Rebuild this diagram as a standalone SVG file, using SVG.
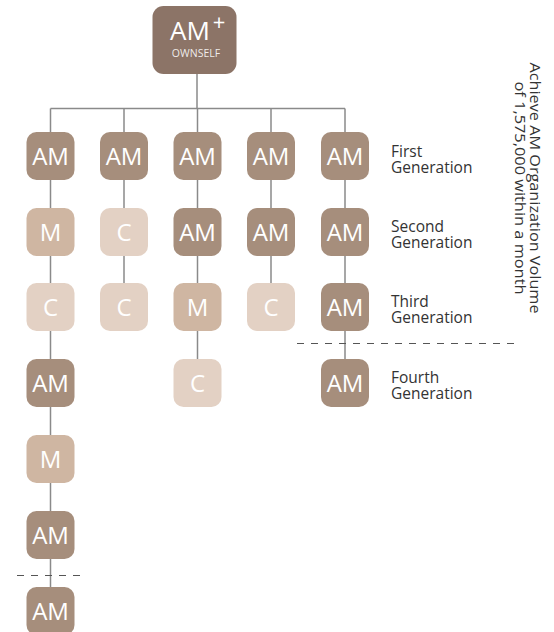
<svg xmlns="http://www.w3.org/2000/svg" width="554" height="632" viewBox="0 0 554 632">
  <style>
    .am { fill: #a68e7c; }
    .m { fill: #cfb6a2; }
    .c { fill: #e3d1c4; }
    .top { fill: #8c7467; }
    .lbl { font-family: "Open Sans", "Noto Sans", sans-serif; fill: #ffffff; font-size: 24px; text-anchor: middle; }
    .gen { font-family: "Open Sans", "Noto Sans", sans-serif; fill: #333333; font-size: 15.5px; }
    .note { font-family: "Open Sans", "Noto Sans", sans-serif; fill: #333333; font-size: 14.5px; text-anchor: middle; }
    .link { stroke: #8a8a8a; stroke-width: 1.5; fill: none; }
    .dash { stroke: #555555; stroke-width: 1.2; fill: none; stroke-dasharray: 7 7; }
  </style>
  <defs>
    <rect id="box" x="-24" y="0" width="48" height="48" rx="10" ry="10"/>
  </defs>

  <!-- connectors -->
  <g id="connectors">
    <path class="link" d="M197 74 V108.5 M50.5 108.5 H345 M50.5 108.5 V587 M124 108.5 V283 M197.5 108.5 V359 M271 108.5 V283 M345 108.5 V359"/>
    <path class="dash" d="M297 343.5 H517"/>
    <path class="dash" d="M17 575.5 H84"/>
  </g>

  <!-- root -->
  <g id="node-root">
    <rect class="top" x="152.5" y="6" width="84" height="68" rx="11" ry="11"/>
    <text class="lbl" x="190" y="40" style="font-size:26px">AM</text>
    <text class="lbl" x="219" y="30" style="font-size:22px">+</text>
    <text class="lbl" x="196" y="57" style="font-size:10.5px" fill-opacity="0.88">OWNSELF</text>
  </g>

  <!-- column 1 -->
  <g id="c1r1" transform="translate(50.5,132)"><use href="#box" class="am"/><text class="lbl" y="33">AM</text></g>
  <g id="c1r2" transform="translate(50.5,208)"><use href="#box" class="m"/><text class="lbl" y="33">M</text></g>
  <g id="c1r3" transform="translate(50.5,283)"><use href="#box" class="c"/><text class="lbl" y="33">C</text></g>
  <g id="c1r4" transform="translate(50.5,359)"><use href="#box" class="am"/><text class="lbl" y="33">AM</text></g>
  <g id="c1r5" transform="translate(50.5,435)"><use href="#box" class="m"/><text class="lbl" y="33">M</text></g>
  <g id="c1r6" transform="translate(50.5,511)"><use href="#box" class="am"/><text class="lbl" y="33">AM</text></g>
  <g id="c1r7" transform="translate(50.5,587)"><use href="#box" class="am"/><text class="lbl" y="33">AM</text></g>

  <!-- column 2 -->
  <g id="c2r1" transform="translate(124,132)"><use href="#box" class="am"/><text class="lbl" y="33">AM</text></g>
  <g id="c2r2" transform="translate(124,208)"><use href="#box" class="c"/><text class="lbl" y="33">C</text></g>
  <g id="c2r3" transform="translate(124,283)"><use href="#box" class="c"/><text class="lbl" y="33">C</text></g>

  <!-- column 3 -->
  <g id="c3r1" transform="translate(197.5,132)"><use href="#box" class="am"/><text class="lbl" y="33">AM</text></g>
  <g id="c3r2" transform="translate(197.5,208)"><use href="#box" class="am"/><text class="lbl" y="33">AM</text></g>
  <g id="c3r3" transform="translate(197.5,283)"><use href="#box" class="m"/><text class="lbl" y="33">M</text></g>
  <g id="c3r4" transform="translate(197.5,359)"><use href="#box" class="c"/><text class="lbl" y="33">C</text></g>

  <!-- column 4 -->
  <g id="c4r1" transform="translate(271,132)"><use href="#box" class="am"/><text class="lbl" y="33">AM</text></g>
  <g id="c4r2" transform="translate(271,208)"><use href="#box" class="am"/><text class="lbl" y="33">AM</text></g>
  <g id="c4r3" transform="translate(271,283)"><use href="#box" class="c"/><text class="lbl" y="33">C</text></g>

  <!-- column 5 -->
  <g id="c5r1" transform="translate(345,132)"><use href="#box" class="am"/><text class="lbl" y="33">AM</text></g>
  <g id="c5r2" transform="translate(345,208)"><use href="#box" class="am"/><text class="lbl" y="33">AM</text></g>
  <g id="c5r3" transform="translate(345,283)"><use href="#box" class="am"/><text class="lbl" y="33">AM</text></g>
  <g id="c5r4" transform="translate(345,359)"><use href="#box" class="am"/><text class="lbl" y="33">AM</text></g>

  <!-- generation labels -->
  <g id="gen-labels">
    <text class="gen" x="391" y="157">First</text>
    <text class="gen" x="391" y="172.5">Generation</text>
    <text class="gen" x="391" y="232">Second</text>
    <text class="gen" x="391" y="247.5">Generation</text>
    <text class="gen" x="391" y="307">Third</text>
    <text class="gen" x="391" y="322.5">Generation</text>
    <text class="gen" x="391" y="383">Fourth</text>
    <text class="gen" x="391" y="398.5">Generation</text>
  </g>

  <!-- target note -->
  <g id="note" transform="translate(530,188) rotate(90)">
    <text class="note" x="0" y="0" textLength="251" lengthAdjust="spacingAndGlyphs">Achieve AM Organization Volume</text>
    <text class="note" x="0" y="15" textLength="213" lengthAdjust="spacingAndGlyphs">of 1,575,000 within a month</text>
  </g>
</svg>
